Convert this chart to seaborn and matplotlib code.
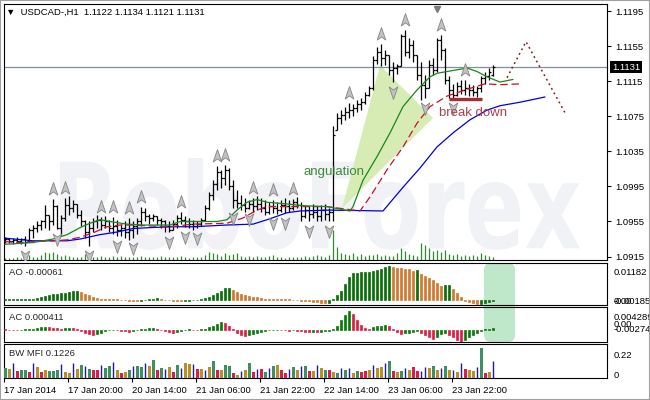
import matplotlib
matplotlib.use("Agg")
import matplotlib.pyplot as plt
import matplotlib.transforms as mtransforms
from matplotlib.path import Path
from matplotlib.patches import FancyBboxPatch, Polygon, PathPatch, Rectangle
from matplotlib.textpath import TextPath
from matplotlib.font_manager import FontProperties
import seaborn as sns
import numpy as np

# USDCAD H1 bars (17 Jan 04:00 .. 24 Jan 08:00)
bar_open = [1.0934, 1.0935, 1.0933, 1.0934, 1.0933, 1.0935, 1.0933, 1.0945, 1.0948, 1.0951,
            1.0955, 1.0962, 1.0955, 1.0973, 1.0948, 1.0959, 1.0974, 1.0970, 1.0975, 1.0962,
            1.0955, 1.0943, 1.0948, 1.0955, 1.0957, 1.0951, 1.0955, 1.0948, 1.0950, 1.0945,
            1.0948, 1.0943, 1.0945, 1.0950, 1.0955, 1.0966, 1.0961, 1.0959, 1.0961, 1.0957,
            1.0955, 1.0950, 1.0945, 1.0952, 1.0959, 1.0957, 1.0955, 1.0952, 1.0950, 1.0952,
            1.0957, 1.0970, 1.0985, 1.0998, 1.1012, 1.1005, 1.1014, 1.0996, 1.0980, 1.0976,
            1.0974, 1.0970, 1.0975, 1.0973, 1.0975, 1.0970, 1.0966, 1.0973, 1.0970, 1.0968,
            1.0974, 1.0973, 1.0970, 1.0977, 1.0974, 1.0961, 1.0968, 1.0964, 1.0966, 1.0961,
            1.0968, 1.0964, 1.0966, 1.1059, 1.1073, 1.1076, 1.1080, 1.1082, 1.1084, 1.1089,
            1.1091, 1.1099, 1.1107, 1.1139, 1.1148, 1.1141, 1.1145, 1.1128, 1.1130, 1.1132,
            1.1167, 1.1148, 1.1156, 1.1145, 1.1122, 1.1111, 1.1107, 1.1133, 1.1128, 1.1162,
            1.1151, 1.1116, 1.1105, 1.1099, 1.1110, 1.1105, 1.1107, 1.1105, 1.1103, 1.1107,
            1.1119, 1.1121, 1.1122]
bar_high = [1.0937, 1.0936, 1.0936, 1.0937, 1.0936, 1.0939, 1.0948, 1.0951, 1.0955, 1.0957,
            1.0974, 1.0962, 1.0981, 1.0974, 1.0962, 1.0982, 1.0984, 1.0980, 1.0975, 1.0968,
            1.0957, 1.0955, 1.0959, 1.0962, 1.0960, 1.0961, 1.0957, 1.0960, 1.0957, 1.0952,
            1.0955, 1.0959, 1.0955, 1.0959, 1.0972, 1.0970, 1.0964, 1.0964, 1.0961, 1.0959,
            1.0957, 1.0955, 1.0957, 1.0962, 1.0966, 1.0961, 1.0959, 1.0957, 1.0956, 1.0959,
            1.0974, 1.0989, 1.1002, 1.1018, 1.1014, 1.1019, 1.1016, 1.1002, 1.0991, 1.0985,
            1.0982, 1.0980, 1.0982, 1.0984, 1.0982, 1.0980, 1.0977, 1.0980, 1.0977, 1.0980,
            1.0982, 1.0980, 1.0981, 1.0983, 1.0977, 1.0974, 1.0973, 1.0975, 1.0973, 1.0974,
            1.0975, 1.0970, 1.1064, 1.1079, 1.1082, 1.1086, 1.1090, 1.1089, 1.1094, 1.1096,
            1.1103, 1.1110, 1.1144, 1.1154, 1.1157, 1.1151, 1.1145, 1.1137, 1.1135, 1.1169,
            1.1173, 1.1164, 1.1162, 1.1145, 1.1137, 1.1122, 1.1139, 1.1141, 1.1164, 1.1168,
            1.1153, 1.1121, 1.1112, 1.1114, 1.1116, 1.1116, 1.1112, 1.1111, 1.1110, 1.1121,
            1.1126, 1.1130, 1.1134]
bar_low = [1.0931, 1.0931, 1.0929, 1.0931, 1.0929, 1.0927, 1.0932, 1.0936, 1.0943, 1.0945,
           1.0948, 1.0945, 1.0951, 1.0947, 1.0939, 1.0955, 1.0962, 1.0966, 1.0959, 1.0950,
           1.0936, 1.0927, 1.0943, 1.0948, 1.0945, 1.0948, 1.0943, 1.0941, 1.0939, 1.0939,
           1.0936, 1.0934, 1.0936, 1.0941, 1.0950, 1.0955, 1.0952, 1.0955, 1.0951, 1.0948,
           1.0943, 1.0943, 1.0945, 1.0948, 1.0952, 1.0949, 1.0948, 1.0945, 1.0948, 1.0950,
           1.0955, 1.0968, 1.0980, 1.0991, 1.0993, 1.0997, 1.0991, 1.0970, 1.0970, 1.0968,
           1.0966, 1.0969, 1.0966, 1.0968, 1.0966, 1.0962, 1.0964, 1.0965, 1.0964, 1.0966,
           1.0965, 1.0966, 1.0968, 1.0970, 1.0955, 1.0959, 1.0955, 1.0959, 1.0955, 1.0955,
           1.0957, 1.0955, 1.0955, 1.1059, 1.1066, 1.1071, 1.1073, 1.1075, 1.1080, 1.1082,
           1.1089, 1.1098, 1.1105, 1.1135, 1.1132, 1.1133, 1.1122, 1.1114, 1.1123, 1.1132,
           1.1144, 1.1141, 1.1137, 1.1116, 1.1094, 1.1096, 1.1107, 1.1122, 1.1126, 1.1139,
           1.1112, 1.1096, 1.1096, 1.1098, 1.1100, 1.1099, 1.1098, 1.1098, 1.1097, 1.1103,
           1.1112, 1.1116, 1.1121]
bar_close = [1.0935, 1.0933, 1.0934, 1.0933, 1.0935, 1.0932, 1.0945, 1.0948, 1.0951, 1.0955,
             1.0962, 1.0955, 1.0973, 1.0948, 1.0959, 1.0974, 1.0970, 1.0975, 1.0962, 1.0955,
             1.0943, 1.0948, 1.0955, 1.0957, 1.0951, 1.0955, 1.0948, 1.0950, 1.0945, 1.0948,
             1.0943, 1.0945, 1.0950, 1.0955, 1.0966, 1.0961, 1.0959, 1.0961, 1.0957, 1.0955,
             1.0950, 1.0945, 1.0952, 1.0959, 1.0957, 1.0955, 1.0952, 1.0950, 1.0952, 1.0957,
             1.0970, 1.0985, 1.0998, 1.1012, 1.1005, 1.1014, 1.0996, 1.0980, 1.0976, 1.0974,
             1.0970, 1.0975, 1.0973, 1.0975, 1.0970, 1.0966, 1.0973, 1.0970, 1.0968, 1.0974,
             1.0973, 1.0970, 1.0977, 1.0974, 1.0961, 1.0968, 1.0964, 1.0966, 1.0961, 1.0968,
             1.0964, 1.0966, 1.1054, 1.1073, 1.1076, 1.1080, 1.1082, 1.1084, 1.1089, 1.1091,
             1.1099, 1.1107, 1.1139, 1.1148, 1.1141, 1.1145, 1.1128, 1.1130, 1.1132, 1.1167,
             1.1148, 1.1156, 1.1145, 1.1122, 1.1111, 1.1107, 1.1133, 1.1128, 1.1162, 1.1151,
             1.1116, 1.1105, 1.1099, 1.1110, 1.1105, 1.1107, 1.1105, 1.1103, 1.1107, 1.1119,
             1.1121, 1.1126, 1.1131]
tick_volume = [200, 200, 200, 300, 200, 300, 500, 300, 300, 500,
               800, 700, 800, 600, 400, 500, 400, 300, 300, 300,
               600, 700, 300, 300, 400, 300, 300, 400, 300, 400,
               300, 300, 300, 300, 400, 300, 300, 300, 300, 400,
               300, 300, 300, 300, 400, 300, 200, 300, 300, 300,
               500, 800, 700, 600, 400, 700, 500, 600, 700, 400,
               300, 400, 300, 400, 300, 300, 400, 500, 300, 300,
               200, 300, 300, 300, 300, 400, 300, 400, 500, 400,
               300, 500, 3000, 1300, 700, 600, 500, 700, 400, 600,
               400, 500, 500, 600, 400, 500, 400, 400, 700, 1200,
               900, 600, 500, 400, 1700, 1500, 1200, 900, 1000, 800,
               1000, 600, 500, 600, 400, 500, 400, 500, 400, 700,
               500, 400, 300]

# Alligator lines (bar position, price), including the forward shift
jaw_x = [0, 7, 15.5, 18.75, 23.75, 28, 32, 36.25, 41.25, 47, 55.5, 62, 65.5, 70.5, 73.75,
         81.25, 94.5, 99.5, 103.75, 108, 112, 116.25, 120.5, 123.75, 128.75, 135]
jaw_y = [1.0936, 1.0933, 1.0933, 1.0935, 1.0940, 1.0943, 1.0947, 1.0948, 1.0949, 1.0949,
         1.0951, 1.0952, 1.0957, 1.0965, 1.0967, 1.0968, 1.0967, 1.0994, 1.1016, 1.1040,
         1.1056, 1.1071, 1.1082, 1.1087, 1.1091, 1.1097]
teeth_x = [0, 3.75, 7, 12, 15.5, 18.75, 22, 25.5, 28.75, 32, 35.5, 41.25, 47, 55.5, 59.5,
           63, 65.5, 70.5, 75.5, 80.5, 88.75, 91.25, 95.5, 99.5, 103, 106.25, 110.5, 115,
           120, 123.75, 129.25]
teeth_y = [1.0932, 1.0931, 1.0932, 1.0933, 1.0934, 1.0937, 1.0942, 1.0949, 1.0951, 1.0951,
           1.0950, 1.0949, 1.0952, 1.0953, 1.0959, 1.0968, 1.0972, 1.0972, 1.0972, 1.0972,
           1.0967, 1.0983, 1.1014, 1.1040, 1.1067, 1.1086, 1.1098, 1.1105, 1.1112, 1.1111,
           1.1112]
lips_x = [0, 7, 12, 15.5, 18.75, 21.25, 23.75, 26.25, 30.5, 34.5, 41.25, 43.75, 47, 53,
          55.5, 58, 60.5, 63, 65.5, 70.5, 74.5, 80.5, 86.25, 87, 89.5, 93, 96.25, 99.5, 103,
          106.25, 108, 110.5, 113, 115.5, 118, 120.5, 123.75, 127]
lips_y = [1.0929, 1.0931, 1.0935, 1.0940, 1.0948, 1.0953, 1.0957, 1.0955, 1.0952, 1.0951,
          1.0951, 1.0955, 1.0955, 1.0955, 1.0957, 1.0968, 1.0977, 1.0980, 1.0977, 1.0975,
          1.0973, 1.0972, 1.0967, 1.0972, 1.1002, 1.1029, 1.1056, 1.1086, 1.1105, 1.1120,
          1.1124, 1.1126, 1.1128, 1.1130, 1.1126, 1.1120, 1.1114, 1.1117]

up_fractals = [12, 15, 24, 27, 31, 34, 44, 53, 55, 62, 67, 72, 86, 94, 100, 109, 115]
down_fractals = [5, 13, 21, 28, 32, 41, 45, 48, 57, 61, 67, 70, 76, 81, 97, 105, 112]

ao_values = [0.0001, 0.00011, 0.00012, 0.00015, 0.00018, 0.0002, 0.00025, 0.0003, 0.0006, 0.0010,
             0.0014, 0.0015, 0.0018, 0.0020, 0.0022, 0.0024, 0.0027, 0.0029, 0.0030, 0.0025,
             0.0019, 0.0015, 0.0009, 0.0006, 0.0004, 0.0003, 0.00028, 0.00025, 0.0002, 0.0,
             -0.0002, -0.0003, -0.0004, -0.0005, -0.0004, -0.0001, 0.0002, 0.0004, 0.0005, 0.0003,
             0.0, -0.0002, -0.0004, -0.0005, -0.0006, -0.0005, -0.0003, -0.0001, 0.0, 0.0001,
             0.0005, 0.0010, 0.0016, 0.0024, 0.0031, 0.0039, 0.0040, 0.0033, 0.0025, 0.0019,
             0.0015, 0.0012, 0.0009, 0.0008, 0.0006, 0.0004, 0.0003, 0.00028, 0.00026, 0.00024,
             0.0002, 0.0001, 0.0, -0.0001, -0.0003, -0.0004, -0.0006, -0.0007, -0.0008, -0.0010,
             -0.0012, -0.0011, 0.0001, 0.0017, 0.0031, 0.0055, 0.0078, 0.0092, 0.0094, 0.0095,
             0.0096, 0.0097, 0.0100, 0.0104, 0.0108, 0.0113, 0.01182, 0.0113, 0.0111, 0.0110,
             0.0108, 0.0105, 0.0101, 0.0102, 0.0090, 0.0083, 0.0075, 0.0067, 0.0059, 0.0049,
             0.0050, 0.0051, 0.0038, 0.0023, 0.0008, -0.0003, -0.0007, -0.0012, -0.0015, -0.0014,
             -0.0011, -0.0008, -0.00061]
ac_values = [0.0001, 0.00005, 0.0, -0.00005, 0.0, 0.0001, 0.0002, 0.0003, 0.0004, 0.0006,
             0.0007, 0.0006, 0.0005, 0.0004, 0.0003, 0.0004, 0.0005, 0.0004, 0.0002, -0.0003,
             -0.0007, -0.0010, -0.0012, -0.0010, -0.0006, -0.0003, -0.0001, 0.0, -0.0001, -0.0002,
             -0.0003, -0.0004, -0.0003, -0.0001, 0.0001, 0.0003, 0.0004, 0.00045, 0.0003, 0.0,
             -0.0003, -0.0005, -0.0006, -0.0004, -0.0002, 0.0, 0.0001, 0.00005, 0.0, 0.0001,
             0.0003, 0.0006, 0.0010, 0.0014, 0.0017, 0.0016, 0.0010, 0.0001, -0.0006, -0.0011,
             -0.0014, -0.0012, -0.0009, -0.0006, -0.0004, -0.0002, -0.0001, 0.0, 0.00005, 0.0,
             -0.0001, -0.00015, -0.0001, -0.0002, -0.0003, -0.0004, -0.0005, -0.0004, -0.0005, -0.0004,
             -0.0003, -0.0002, 0.0001, 0.0008, 0.0022, 0.0033, 0.004289, 0.0037, 0.0022, 0.0011,
             0.0005, 0.0002, 0.0006, 0.0009, 0.0010, 0.0011, 0.0008, 0.0001, -0.0004, -0.0009,
             -0.0008, -0.0006, -0.0005, -0.0003, -0.0006, -0.0012, -0.0017, -0.0021, -0.0016, -0.0010,
             -0.0007, -0.0011, -0.0016, -0.0022, -0.00274, -0.0022, -0.0016, -0.0011, -0.0006, -0.0002,
             0.0001, 0.0003, 0.000411]
mfi_values = [0.073, 0.066, 0.110, 0.051, 0.059, 0.059, 0.044, 0.110, 0.081, 0.044,
              0.059, 0.051, 0.051, 0.059, 0.103, 0.044, 0.037, 0.110, 0.066, 0.095,
              0.088, 0.066, 0.059, 0.059, 0.095, 0.073, 0.088, 0.117, 0.059, 0.037,
              0.044, 0.059, 0.088, 0.088, 0.081, 0.110, 0.088, 0.132, 0.059, 0.073,
              0.066, 0.081, 0.044, 0.095, 0.073, 0.110, 0.103, 0.103, 0.066, 0.066,
              0.059, 0.081, 0.125, 0.059, 0.059, 0.095, 0.088, 0.037, 0.022, 0.051,
              0.059, 0.110, 0.044, 0.066, 0.066, 0.044, 0.073, 0.088, 0.095, 0.059,
              0.037, 0.066, 0.081, 0.059, 0.088, 0.088, 0.051, 0.051, 0.095, 0.073,
              0.059, 0.059, 0.044, 0.037, 0.073, 0.059, 0.073, 0.037, 0.051, 0.044,
              0.051, 0.059, 0.095, 0.073, 0.081, 0.110, 0.125, 0.051, 0.044, 0.051,
              0.073, 0.059, 0.081, 0.051, 0.051, 0.081, 0.073, 0.088, 0.059, 0.073,
              0.088, 0.059, 0.059, 0.044, 0.110, 0.066, 0.059, 0.051, 0.081, 0.220,
              0.037, 0.044, 0.1226]
# G = green, B = fade, F = fake, R = squat
mfi_zone = list("GBFRGGRFBR" "BGGGFBBFBG" "FGRRFGGFBR" "BGFGGFBGRG" "FBRGFBBFRB"
                "FBGRBGGRBF" "BGRFRGFGBR" "RFGBFGRBFB" "GRBGFGFBGR" "RBFBBFGRBG"
                "FBRRFFBGBF" "GBFBFRBBFG" "RBF")

price_ticks = [1.1195, 1.1155, 1.1115, 1.1075, 1.1035, 1.0995, 1.0955, 1.0915]
last_price = 1.1131
label_bars = [0, 16, 32, 48, 64, 80, 96, 112]
time_labels = ['17 Jan 2014', '17 Jan 20:00', '20 Jan 14:00', '21 Jan 06:00',
               '21 Jan 22:00', '22 Jan 14:00', '23 Jan 06:00', '23 Jan 22:00']

# hand drawn objects on the chart
angulation_x = [84.25, 93.75, 107.0]
angulation_y = [1.0970, 1.1133, 1.1073]
breakdown_x = [111.0, 119.25]
breakdown_y = [1.1095, 1.1095]
forecast_x = [125.5, 130.25, 140.0]
forecast_y = [1.1119, 1.1160, 1.1079]

sns.set_theme(style="white")
plt.rcParams['font.family'] = ['Liberation Sans', 'DejaVu Sans']

W, H = 650, 400
fig = plt.figure(figsize=(W / 100, H / 100), dpi=100)
fig.patch.set_facecolor('white')
FS = 6.8


def panel(top, bottom):
    a = fig.add_axes([4 / W, 1 - bottom / H, 603 / W, (bottom - top) / H])
    a.set_xlim(-0.25, 150.5)
    a.set_facecolor('none')
    for s in a.spines.values():
        s.set_color('black')
        s.set_linewidth(0.8)
    a.set_xticks([])
    a.set_yticks([])
    return a


def right_text(a, value, text, dy=0.0, dx=7, **kw):
    tr = mtransforms.blended_transform_factory(a.transAxes, a.transData)
    tr = tr + mtransforms.ScaledTranslation(dx / 100, -dy / 100, fig.dpi_scale_trans)
    a.text(1.0, value, text, transform=tr, ha='left', va='center', fontsize=FS,
           color=kw.pop('color', 'black'), clip_on=False, **kw)


n = len(bar_close)
idx = np.arange(n)
o, hi, lo, c = (np.array(v) for v in (bar_open, bar_high, bar_low, bar_close))

# ---------------- main price window ----------------
ax = panel(4, 260)
ax.set_ylim(1.09111, 1.12030)
PX = (1.12030 - 1.09111) / 256.0

# watermark
fp = FontProperties(family='DejaVu Sans', weight='bold')
tp = TextPath((0, 0), 'RoboForex', size=1, prop=fp)
ext = tp.get_extents()
wx0, wx1, wtop, wbot = 60, 580, 158, 250
tr = (mtransforms.Affine2D().translate(-ext.x0, -ext.y0)
      .scale((wx1 - wx0) / ext.width / 100, (wbot - wtop) / ext.height / 100)
      .translate(wx0 / 100, (H - wbot) / 100) + fig.dpi_scale_trans)
ax.add_patch(PathPatch(tp, transform=tr, facecolor='#f0f2f6', edgecolor='none', zorder=0.5))

ax.add_patch(Polygon(list(zip(angulation_x, angulation_y)), closed=True,
                     facecolor='#d6ecb4', edgecolor='none', zorder=1))

# tick volumes at the bottom of the window
ax.vlines(idx, 0, np.array(tick_volume) / 25600, transform=ax.get_xaxis_transform(),
          color='#2e8b2e', lw=0.9, zorder=1.5)

ax.axhline(last_price, color='#7f8fa0', lw=0.9, zorder=2)

ax.vlines(idx, lo, hi, color='black', lw=0.9, zorder=3)
ax.hlines(o, idx - 0.45, idx, color='black', lw=0.9, zorder=3)
ax.hlines(c, idx, idx + 0.45, color='black', lw=0.9, zorder=3)

sns.lineplot(x=jaw_x, y=jaw_y, ax=ax, color='#0000e0', linewidth=0.9,
             estimator=None, sort=False, legend=False, zorder=4)
sns.lineplot(x=teeth_x, y=teeth_y, ax=ax, color='#c8102e', linewidth=0.9,
             estimator=None, sort=False, legend=False, zorder=4)
ax.lines[-1].set_dashes([6, 3])
sns.lineplot(x=lips_x, y=lips_y, ax=ax, color='#1b861b', linewidth=0.9,
             estimator=None, sort=False, legend=False, zorder=4)

up_arrow = Path([(0, 1), (0.62, -0.8), (0, -0.35), (-0.62, -0.8), (0, 1)],
                [Path.MOVETO, Path.LINETO, Path.LINETO, Path.LINETO, Path.CLOSEPOLY])
down_arrow = Path([(0, -1), (0.62, 0.8), (0, 0.35), (-0.62, 0.8), (0, -1)],
                  [Path.MOVETO, Path.LINETO, Path.LINETO, Path.LINETO, Path.CLOSEPOLY])
ax.plot(up_fractals, hi[up_fractals] + 10 * PX, ls='none', marker=up_arrow, ms=10,
        mfc='#c2c2c2', mec='#858585', mew=0.6, zorder=5)
ax.plot(down_fractals, lo[down_fractals] - 10 * PX, ls='none', marker=down_arrow, ms=10,
        mfc='#c2c2c2', mec='#858585', mew=0.6, zorder=5)

ax.plot(breakdown_x, breakdown_y, color='#a82a32', lw=2.4, solid_capstyle='butt', zorder=5)
ax.plot(forecast_x, forecast_y, color='#8b1a1a', lw=1.1, ls=(0, (1.2, 2.2)), zorder=5)

ax.text(74.5, 1.1012, 'angulation', color='#3a8a3a', fontsize=9.5, va='center', ha='left', zorder=6)
ax.text(108.5, 1.1079, 'break down', color='#b0404a', fontsize=9.5, va='center', ha='left', zorder=6)

# chart shift marker
ax.plot([108], [0.982], transform=ax.get_xaxis_transform(), marker='v', ms=5,
        color='#7a7a7a', ls='none', clip_on=False)

ax.yaxis.set_ticks_position('right')
ax.set_yticks(price_ticks)
ax.set_yticklabels([f'{v:.4f}' for v in price_ticks])
ax.tick_params(axis='y', right=True, left=False, length=3, width=0.8, pad=3,
               labelsize=FS, colors='black', direction='out')
right_text(ax, last_price, f'{last_price:.4f}', dx=5, color='white',
           bbox=dict(boxstyle='square,pad=0.18', fc='black', ec='none'))

# ---------------- Awesome oscillator ----------------
ax_ao = panel(263, 305)
ax_ao.set_ylim(-0.00185, 0.01275)
ao = np.array(ao_values)
ao_col = np.where(np.r_[True, ao[1:] > ao[:-1]], '#0a6e0a', '#d0782e')
ax_ao.bar(idx, ao, width=0.62, color=ao_col, edgecolor=ao_col, linewidth=0.5, zorder=3)
right_text(ax_ao, 0.01182, '0.01182', dy=6.5)
right_text(ax_ao, 0.0, '0.00', dy=2)
right_text(ax_ao, -0.00185, '-0.00185', dy=-3.3)

# ---------------- Accelerator oscillator ----------------
ax_ac = panel(307, 342)
ax_ac.set_ylim(-0.00274, 0.0052)
ac = np.array(ac_values)
ac_col = np.where(np.r_[False, ac[1:] > ac[:-1]], '#0a780a', '#dc1e46')
ax_ac.bar(idx, ac, width=0.62, color=ac_col, edgecolor=ac_col, linewidth=0.5, zorder=3)
right_text(ax_ac, 0.004289, '0.004289', dy=6.6)
right_text(ax_ac, 0.0, '0.00', dy=-5.3)
right_text(ax_ac, -0.00274, '-0.00274', dy=-13)

# ---------------- BW MFI ----------------
ax_mfi = panel(344, 378)
ax_mfi.set_ylim(0, 0.2493)
mfi = np.array(mfi_values)
zones = np.array(mfi_zone)
zone_colors = {'G': '#3f8f63', 'B': '#b88f28', 'R': '#d81e4a', 'F': '#1c1c9c'}
solid = zones != 'F'
ax_mfi.bar(idx[solid], mfi[solid], width=0.75, color=[zone_colors[z] for z in zones[solid]],
           linewidth=0, zorder=3)
ax_mfi.vlines(idx[~solid], 0, mfi[~solid], color=zone_colors['F'], lw=1.0, zorder=3)
right_text(ax_mfi, 0.22, '0.22', dy=8)
right_text(ax_mfi, 0.0, '0', dy=-2.4)

ax_mfi.set_xticks(np.array(label_bars) - 0.25)
ax_mfi.set_xticklabels(time_labels, ha='left', fontsize=FS)
ax_mfi.tick_params(axis='x', bottom=True, length=3, width=0.8, pad=3, colors='black')

# indicator labels and header
fig.text(6 / W, 1 - 12 / H, '\u25bc  USDCAD-,H1  1.1122 1.1134 1.1121 1.1131',
         fontsize=FS, ha='left', va='center', color='black')
fig.text(9 / W, 1 - 272.5 / H, f'AO {ao[-1]:.5f}', fontsize=FS, ha='left', va='center')
fig.text(9 / W, 1 - 317 / H, f'AC {ac[-1]:.6f}', fontsize=FS, ha='left', va='center')
fig.text(9 / W, 1 - 354 / H, f'BW MFI {mfi[-1]:.4f}', fontsize=FS, ha='left', va='center')

# highlight over the latest AO / AC bars
fig.add_artist(FancyBboxPatch((4.84, (H - 342) / 100), 0.31, 0.79,
                              boxstyle='round,pad=0,rounding_size=0.07',
                              transform=fig.dpi_scale_trans, fc='#bfe7c9', ec='none', zorder=-1))
fig.add_artist(Rectangle((0, 0), 1, 1, transform=fig.transFigure, fill=False,
                         ec='#a0a0a0', lw=1.5, zorder=10))

fig.savefig('out.png', dpi=100)
